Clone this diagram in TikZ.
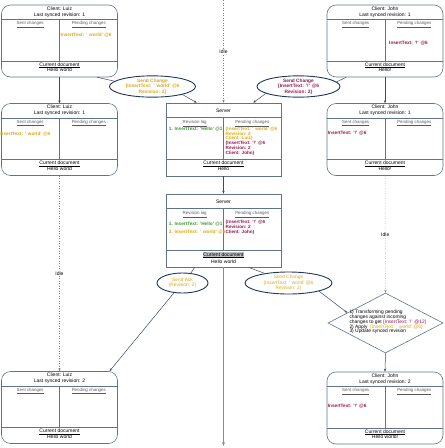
\documentclass[tikz,border=0pt]{standalone}
\usepackage{fontspec}
\setmainfont{Liberation Sans}
\usepackage{xcolor}
\usetikzlibrary{arrows.meta, positioning, calc, shapes.geometric}

\definecolor{luizcol}{RGB}{222,165,20}
\definecolor{johncol}{RGB}{150,20,75}
\definecolor{logcol}{RGB}{60,150,50}
\definecolor{boxcol}{RGB}{95,115,140}
\definecolor{ellcol}{RGB}{30,55,95}
\definecolor{wirecol}{RGB}{55,75,105}

\tikzset{
    clientbox/.style={draw=boxcol, rounded corners=9pt, minimum width=116pt, minimum height=72pt, inner sep=0pt, line width=0.6pt},
    serverbox/.style={draw=boxcol, minimum width=115pt, minimum height=73pt, inner sep=0pt, line width=0.6pt},
    divline/.style={draw=boxcol, line width=0.6pt},
    headtext/.style={font=\fontsize{5}{6}\selectfont, align=center, inner sep=0pt},
    doctext/.style={font=\fontsize{5}{5.8}\selectfont, align=center, inner sep=0pt, anchor=north},
    celltitle/.style={font=\fontsize{4.4}{5}\selectfont, text=black!65, inner sep=0pt},
    change/.style={font=\bfseries\fontsize{4.7}{4.8}\selectfont, inner sep=0pt, anchor=west, align=left},
    changelist/.style={font=\bfseries\fontsize{4.6}{4.8}\selectfont, inner sep=0pt, anchor=north west, align=left},
    message/.style={draw=ellcol, ellipse, line width=0.9pt, inner sep=0pt, align=center, font=\fontsize{4.8}{5.3}\selectfont},
    decision/.style={draw=boxcol, diamond, minimum width=115pt, minimum height=60pt, inner sep=0pt, line width=0.6pt},
    flow/.style={draw=wirecol, -{Stealth[length=3pt,width=2.4pt]}, line width=0.5pt},
    link/.style={draw=wirecol, line width=0.5pt},
    idle/.style={draw=gray, dotted, -{Stealth[length=3pt,width=2.4pt]}, line width=0.5pt},
    idlelabel/.style={fill=white, font=\fontsize{5}{6}\selectfont, inner sep=1pt},
    timeline/.style={draw=boxcol!80, -{Stealth[length=4pt,width=3pt]}, line width=1.1pt}
}

% client panel: name, position, client, revision, document
\newcommand{\clientpanel}[5]{%
    \node[clientbox] (#1) at (#2) {};
    \draw[divline] ([yshift=-15pt]#1.north west) -- ([yshift=-15pt]#1.north east);
    \draw[divline] ([yshift=16.5pt]#1.south west) -- ([yshift=16.5pt]#1.south east);
    \draw[divline] ([yshift=-15pt]#1.north) -- ([yshift=16.5pt]#1.south);
    \node[headtext] (#1-head) at ([yshift=-7.5pt]#1.north) {Client: #3\\Last synced revision: #4};
    \node[celltitle] (#1-sent) at ([xshift=29pt,yshift=-20pt]#1.north west) {\underline{Sent changes}};
    \node[celltitle] (#1-pend) at ([xshift=-29pt,yshift=-20pt]#1.north east) {\underline{Pending changes}};
    \node[doctext] (#1-doc) at ([yshift=15pt]#1.south) {#5};
}

% server panel: name, position, document
\newcommand{\serverpanel}[3]{%
    \node[serverbox] (#1) at (#2) {};
    \draw[divline] ([yshift=-14.5pt]#1.north west) -- ([yshift=-14.5pt]#1.north east);
    \draw[divline] ([yshift=17pt]#1.south west) -- ([yshift=17pt]#1.south east);
    \draw[divline] ([yshift=-14.5pt]#1.north) -- ([yshift=17pt]#1.south);
    \node[headtext] (#1-head) at ([yshift=-8pt]#1.north) {Server};
    \node[celltitle] (#1-log) at ([xshift=29pt,yshift=-21pt]#1.north west) {\underline{Revision log}};
    \node[celltitle] (#1-pend) at ([xshift=-29pt,yshift=-21pt]#1.north east) {\underline{Pending changes}};
    \node[doctext] (#1-doc) at ([yshift=15.5pt]#1.south) {#3};
}

\begin{document}
\begin{tikzpicture}[x=1pt, y=-1pt]
\useasboundingbox (0,0) rectangle (445,448);

% Clients
\clientpanel{luiz1}{59.5,41}{Luiz}{1}{\underline{Current document}\\Hello world}
\clientpanel{john1}{385,41}{John}{1}{\underline{Current document}\\Hello!}
\clientpanel{luiz2}{59.5,139.5}{Luiz}{1}{\underline{Current document}\\Hello world}
\clientpanel{john2}{385,139.5}{John}{1}{\underline{Current document}\\Hello!}
\clientpanel{luiz3}{59.5,407.5}{Luiz}{2}{\underline{Current document}\\Hello world}
\clientpanel{john3}{385,408}{John}{2}{\underline{Current document}\\Hello world!}

\node[change, text=luizcol] (luiz1-c) at ([xshift=1pt,yshift=-30pt]luiz1.north) {InsertText: ' world' @6};
\node[change, text=johncol] (john1-c) at ([xshift=4pt,yshift=-38pt]john1.north) {InsertText: '!' @6};
\node[change, text=luizcol] (luiz2-c) at ([xshift=-2pt,yshift=-31pt]luiz2.north west) {InsertText: ' world' @6};
\node[change, text=johncol] (john2-c) at ([xshift=1pt,yshift=-30pt]john2.north west) {InsertText: '!' @6};
\node[change, text=johncol] (john3-c) at ([xshift=1pt,yshift=-34pt]john3.north west) {InsertText: '!' @6};

% Server
\serverpanel{srv1}{223.5,139.5}{\underline{Current document}\\Hello}
\serverpanel{srv2}{223.5,230.5}{{\setlength{\fboxsep}{0.4pt}\colorbox{black!25}{\underline{Current document}}}\\Hello world}

\node[change, text=logcol] (srv1-l) at ([xshift=3pt,yshift=-26pt]srv1.north west) {1. InsertText: 'Hello' @1};
\node[changelist] (srv1-p) at ([xshift=2pt,yshift=-24pt]srv1.north) {\color{luizcol}\{InsertText: ' world' @6\\\color{luizcol}Revision: 2\\\color{luizcol}Client: Luiz\}\\\color{johncol}\{InsertText: '!' @6\\\color{johncol}Revision: 2\\\color{johncol}Client: John\}};
\node[change, text=logcol] (srv2-l1) at ([xshift=3pt,yshift=-30pt]srv2.north west) {1. InsertText: 'Hello' @1};
\node[change, text=luizcol] (srv2-l2) at ([xshift=3pt,yshift=-38pt]srv2.north west) {2. InsertText: ' world' @6};
\node[changelist, text=johncol] (srv2-p) at ([xshift=2pt,yshift=-26.5pt]srv2.north) {\{InsertText: '!' @6\\Revision: 2\\Client: John\}};

% Messages
\node[message, minimum width=86pt, minimum height=19pt, text=luizcol, font=\bfseries\fontsize{4.8}{5.3}\selectfont] (sc1) at (152.5,86.5) {Send Change\\\{InsertText: ' world' @6\\Revision: 2\}};
\node[message, minimum width=83pt, minimum height=19pt, text=johncol, font=\bfseries\fontsize{4.8}{5.3}\selectfont] (sc2) at (298.5,86.5) {Send Change\\\{InsertText: '!' @6\\Revision: 2\}};
\node[message, minimum width=51pt, minimum height=20pt, text=luizcol] (ack) at (182.5,283) {Send Ack\\\{Revision: 2\}};
\node[message, minimum width=87pt, minimum height=22pt, text=luizcol] (sc3) at (288.5,283) {Send Change\\\{InsertText: ' world' @6\\Revision: 2\}};

% Transform step
\node[decision] (trans) at (385.5,323) {};
\node[align=left, inner sep=0pt, font=\fontsize{4.9}{4.8}\selectfont] (trans-text) at (388,322) {1) Transforming pending\\changes against incoming\\changes to get {\color{johncol}\{InsertText: '!' @12\}}\\2) Apply\ \ {\color{luizcol}\{InsertText: ' world' @6\}}\\3) Update synced revision};

% Connectors
\coordinate (idle-top) at (223.5,0);
\coordinate (srv-end) at (223.5,446);
\draw[link] (luiz1.-44) -- (sc1.172);
\draw[flow] (sc1.-15) -- (srv1.126);
\draw[link] (john1.223) -- (sc2.7);
\draw[flow] (sc2.192) -- (srv1.51);
\draw[flow] (luiz1.south) -- (luiz2.north);
\draw[flow] (john1.south) -- (john2.north);
\draw[idle] (idle-top) -- node[idlelabel] {Idle} (srv1.north);
\draw[flow] (srv1.south) -- (srv2.north);
\draw[link] (srv2.232) -- (ack.50);
\draw[flow] (ack.229) -- (luiz3.36);
\draw[link] (srv2.-56) -- (sc3.158);
\draw[flow] (sc3.-15) -- (trans.165);
\draw[idle] (luiz2.south) -- node[idlelabel] {Idle} (luiz3.north);
\draw[idle] (john2.south) -- node[idlelabel] {Idle} (trans.north);
\draw[flow] (trans.south) -- (john3.north);
\draw[timeline] (srv2.south) -- (srv-end);
\end{tikzpicture}
\end{document}
